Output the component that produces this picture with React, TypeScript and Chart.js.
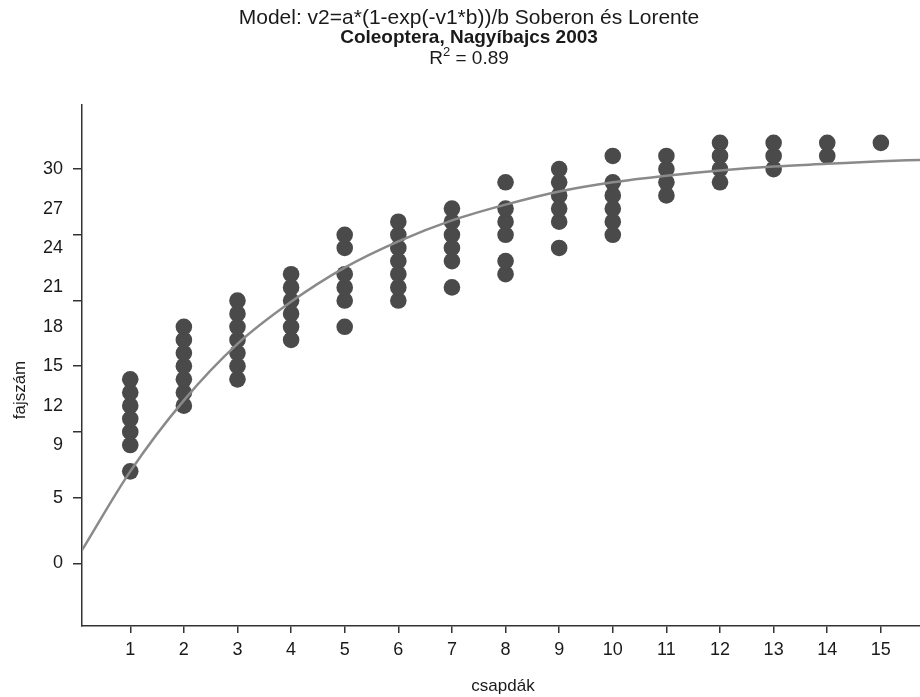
import React, { useEffect, useRef } from "react";
import { Chart, registerables } from "chart.js";

Chart.register(...registerables);

// Observed species counts per trap number (csapdák)
const trapNumbers = [1, 2, 3, 4, 5, 6, 7, 8, 9, 10, 11, 12, 13, 14, 15];
const speciesCounts: number[][] = [
  [7, 9, 10, 11, 12, 13, 14],
  [12, 13, 14, 15, 16, 17, 18],
  [14, 15, 16, 17, 18, 19, 20],
  [17, 18, 19, 20, 21, 22],
  [18, 20, 21, 22, 24, 25],
  [20, 21, 22, 23, 24, 25, 26],
  [21, 23, 24, 25, 26, 27],
  [22, 23, 25, 26, 27, 29],
  [24, 26, 27, 28, 29, 30],
  [25, 26, 27, 28, 29, 31],
  [28, 29, 30, 31],
  [29, 30, 31, 32],
  [30, 31, 32],
  [31, 32],
  [32],
];

// Fitted curve
const fitX = [0.1, 1, 2, 3, 4, 5, 6, 7, 8, 9, 10, 11, 12, 13, 14, 15, 15.73];
const fitY = [1.0, 7.0, 12.4, 16.7, 19.9, 22.5, 24.5, 26.1, 27.3, 28.3, 29.0, 29.5, 29.9, 30.2, 30.4, 30.6, 30.7];

const yTickLabels = [0, 5, 9, 12, 15, 18, 21, 24, 27, 30];
const yTickMarks = [0, 5, 10, 15, 20, 25, 30];

const titleLine1 = "Model: v2=a*(1-exp(-v1*b))/b Soberon és Lorente";
const titleLine2 = "Coleoptera, Nagyíbajcs 2003";
const r2Text = "0.89";
const xTitle = "csapdák";
const yTitle = "fajszám";

const FONT = '"Liberation Sans", Arial, sans-serif';

export default function App() {
  const ref = useRef<HTMLCanvasElement | null>(null);

  useEffect(() => {
    if (!ref.current) return;
    const points: { x: number; y: number }[] = [];
    trapNumbers.forEach((t, i) => speciesCounts[i].forEach((v) => points.push({ x: t, y: v })));
    const curve = fitX.map((x, i) => ({ x, y: fitY[i] }));
    const allTicks = Array.from(new Set([...yTickLabels, ...yTickMarks])).sort((a, b) => a - b);

    const textPlugin = {
      id: "texts",
      afterDraw(chart: any) {
        const ctx = chart.ctx as CanvasRenderingContext2D;
        ctx.save();
        ctx.fillStyle = "#1a1a1a";
        ctx.textAlign = "center";
        ctx.textBaseline = "middle";
        const cx = 469;
        ctx.font = `21px ${FONT}`;
        ctx.fillText(titleLine1, cx, 18, 474);
        ctx.font = `bold 19px ${FONT}`;
        ctx.fillText(titleLine2, cx, 38);
        // R^2 line
        ctx.font = `19px ${FONT}`;
        const rest = " = " + r2Text;
        const wR = ctx.measureText("R").width;
        ctx.font = `13px ${FONT}`;
        const w2 = ctx.measureText("2").width;
        ctx.font = `19px ${FONT}`;
        const wRest = ctx.measureText(rest).width;
        const total = wR + w2 + wRest;
        const x0 = cx - total / 2;
        ctx.textAlign = "left";
        ctx.fillText("R", x0, 59);
        ctx.font = `13px ${FONT}`;
        ctx.fillText("2", x0 + wR, 52);
        ctx.font = `19px ${FONT}`;
        ctx.fillText(rest, x0 + wR + w2, 59);
        // axis titles
        ctx.textAlign = "center";
        ctx.font = `17px ${FONT}`;
        ctx.fillText(xTitle, 503, 686);
        ctx.translate(20, 390);
        ctx.rotate(-Math.PI / 2);
        ctx.fillText(yTitle, 0, 0);
        ctx.restore();
      },
    };

    const chart = new Chart(ref.current, {
      type: "scatter",
      data: {
        datasets: [
          {
            type: "line",
            data: curve,
            borderColor: "#8a8a8a",
            borderWidth: 2.5,
            pointRadius: 0,
            cubicInterpolationMode: "monotone",
            order: 0,
          } as any,
          {
            type: "scatter",
            data: points,
            pointRadius: 8.3,
            pointBackgroundColor: "#4a4a4a",
            pointBorderWidth: 0,
            order: 1,
          } as any,
        ],
      },
      options: {
        animation: false,
        responsive: false,
        layout: { autoPadding: false, padding: { top: 105, right: 0, left: 0, bottom: 0 } },
        plugins: { legend: { display: false }, tooltip: { enabled: false }, title: { display: false } },
        scales: {
          x: {
            type: "linear",
            min: 0.1,
            max: 15.73,
            afterBuildTicks: (s: any) => {
              s.ticks = trapNumbers.map((v) => ({ value: v }));
            },
            afterFit: (s: any) => {
              s.height = 71;
              s.paddingLeft = 0;
              s.paddingRight = 0;
            },
            grid: { drawOnChartArea: false, drawTicks: true, tickLength: 7, color: "#333", lineWidth: 1.5 },
            border: { display: true, color: "#333", width: 1.5 },
            ticks: { color: "#1a1a1a", font: { family: FONT, size: 18 }, padding: 6, maxRotation: 0, autoSkip: false },
          },
          y: {
            type: "linear",
            min: -4.77,
            max: 34.88,
            afterBuildTicks: (s: any) => {
              s.ticks = allTicks.map((v) => ({ value: v }));
            },
            afterFit: (s: any) => {
              s.width = 82;
              s.paddingTop = 0;
              s.paddingBottom = 0;
            },
            grid: {
              drawOnChartArea: false,
              drawTicks: true,
              tickLength: 9,
              lineWidth: 1.5,
              tickColor: (c: any) => (yTickMarks.includes(c.tick?.value) ? "#333" : "rgba(0,0,0,0)"),
            } as any,
            border: { display: true, color: "#333", width: 1.5 },
            ticks: {
              color: "#1a1a1a",
              font: { family: FONT, size: 18 },
              padding: 10,
              autoSkip: false,
              callback: (v: any) => (yTickLabels.includes(Number(v)) ? String(v) : ""),
            },
          },
        },
      },
      plugins: [textPlugin],
    });
    return () => chart.destroy();
  }, []);

  return (
    <div style={{ position: "absolute", left: 0, top: 0, width: 920, height: 697, background: "#fff" }}>
      <canvas ref={ref} width={920} height={697} style={{ width: 920, height: 697 }} />
    </div>
  );
}
